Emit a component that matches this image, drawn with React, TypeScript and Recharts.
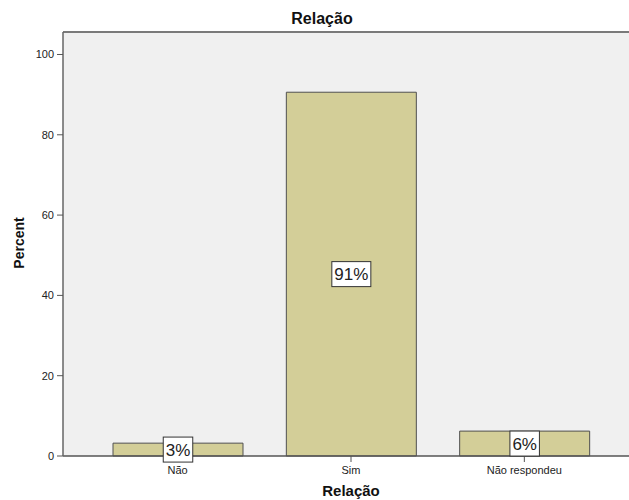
import React from "react";
import {
  BarChart,
  Bar,
  XAxis,
  YAxis,
  CartesianGrid,
  LabelList,
  ReferenceLine,
} from "recharts";

const categories = ["Não", "Sim", "Não respondeu"];
const percents = [3.2, 90.6, 6.2];
const yTicks = [0, 20, 40, 60, 80, 100];
const Y_MAX = 105.6;

const FONT = '"Liberation Sans", Arial, sans-serif';

const data = categories.map((categoria, i) => ({
  categoria,
  percent: percents[i],
}));

// white boxed percentage in the middle of each bar
const BoxLabel = (props: any) => {
  const { x, y, width, height, value } = props;
  const text = `${Math.round(value)}%`;
  const digits = text.length - 1;
  const w = 9.5 * digits + 20;
  const h = 25;
  const cx = x + width / 2;
  const cy = y + height / 2;
  return (
    <g>
      <rect
        x={cx - w / 2}
        y={cy - h / 2}
        width={w}
        height={h}
        fill="#ffffff"
        stroke="#333333"
        strokeWidth={1}
      />
      <text
        x={cx}
        y={cy + 6}
        textAnchor="middle"
        fontSize={17}
        fontFamily={FONT}
        fill="#222222"
      >
        {text}
      </text>
    </g>
  );
};

export default function App() {
  return (
    <div
      style={{
        position: "absolute",
        left: 0,
        top: 0,
        width: 629,
        height: 500,
        background: "#ffffff",
        fontFamily: FONT,
        overflow: "hidden",
      }}
    >
      <div
        style={{
          position: "absolute",
          left: 222,
          top: 11,
          width: 200,
          textAlign: "center",
          fontSize: 16,
          lineHeight: "16px",
          fontWeight: "bold",
          color: "#111",
        }}
      >
        Relação
      </div>
      <BarChart
        width={629}
        height={500}
        data={data}
        margin={{ top: 32, right: 0, bottom: 0, left: 0 }}
      >
        <CartesianGrid horizontal={false} vertical={false} fill="#f0f0f0" />
        <XAxis
          dataKey="categoria"
          type="category"
          interval={0}
          height={44}
          padding={{ left: 28, right: 18 }}
          axisLine={{ stroke: "#555555", strokeWidth: 1.5 }}
          tickLine={{ stroke: "#555555" }}
          tickSize={6}
          tickMargin={4}
          tick={{ fontSize: 11, fill: "#222222", fontFamily: FONT }}
        />
        <YAxis
          type="number"
          width={63}
          domain={[0, Y_MAX]}
          ticks={yTicks}
          axisLine={{ stroke: "#666666", strokeWidth: 1.5 }}
          tickLine={{ stroke: "#555555" }}
          tickSize={6}
          tickMargin={3}
          tick={{ fontSize: 11, fill: "#222222", fontFamily: FONT }}
        />
        <ReferenceLine y={Y_MAX} stroke="#7a7a7a" strokeWidth={2} />
        <Bar
          dataKey="percent"
          fill="#d3ce98"
          stroke="#505050"
          strokeWidth={1}
          barSize={130}
          isAnimationActive={false}
        >
          <LabelList dataKey="percent" content={BoxLabel} />
        </Bar>
      </BarChart>
      <div
        style={{
          position: "absolute",
          left: 19,
          top: 243,
          transform: "translate(-50%, -50%) rotate(-90deg)",
          fontSize: 14,
          lineHeight: "14px",
          fontWeight: "bold",
          whiteSpace: "nowrap",
          color: "#111",
        }}
      >
        Percent
      </div>
      <div
        style={{
          position: "absolute",
          left: 251,
          top: 483,
          width: 200,
          textAlign: "center",
          fontSize: 15,
          lineHeight: "15px",
          fontWeight: "bold",
          color: "#111",
        }}
      >
        Relação
      </div>
    </div>
  );
}
